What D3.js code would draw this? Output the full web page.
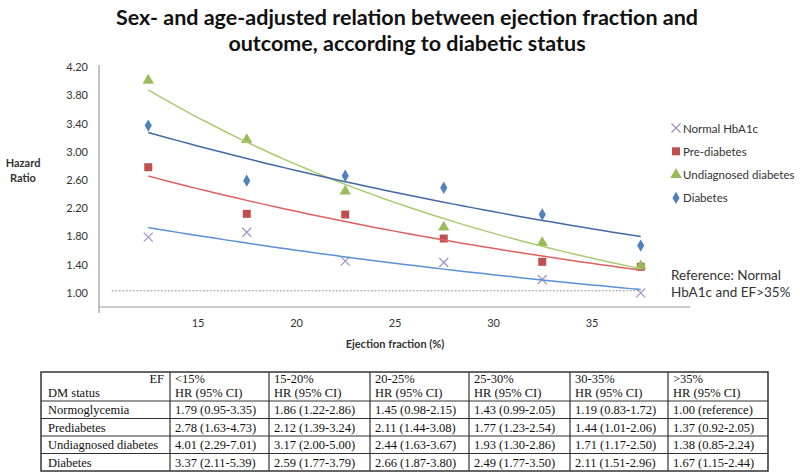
<!DOCTYPE html>
<html lang="en">
<head>
<meta charset="utf-8">
<title>Ejection fraction and outcome</title>
<script src="https://d3js.org/d3.v7.min.js"></script>
<style>
  body { margin: 0; background: #fff; }
  svg text { font-family: Lato, "Open Sans", sans-serif; }
  .tbl text { font-family: "Liberation Serif", "Times New Roman", serif; font-size: 12.5px; fill: #111; }
</style>
</head>
<body>
<div id="chart"></div>
<script>
// ---- data ----
const efMid = [12.5, 17.5, 22.5, 27.5, 32.5, 37.5];
const efBands = ["<15%", "15-20%", "20-25%", "25-30%", "30-35%", ">35%"];
const seriesNames = ["Normal HbA1c", "Pre-diabetes", "Undiagnosed diabetes", "Diabetes"];
const tableNames = ["Normoglycemia", "Prediabetes", "Undiagnosed diabetes", "Diabetes"];
const hrNormal = [1.79, 1.86, 1.45, 1.43, 1.19, 1.00];
const hrPre = [2.78, 2.12, 2.11, 1.77, 1.44, 1.37];
const hrUndiag = [4.01, 3.17, 2.44, 1.93, 1.71, 1.38];
const hrDiab = [3.37, 2.59, 2.66, 2.49, 2.11, 1.67];
const ciNormal = ["0.95-3.35", "1.22-2.86", "0.98-2.15", "0.99-2.05", "0.83-1.72", "reference"];
const ciPre = ["1.63-4.73", "1.39-3.24", "1.44-3.08", "1.23-2.54", "1.01-2.06", "0.92-2.05"];
const ciUndiag = ["2.29-7.01", "2.00-5.00", "1.63-3.67", "1.30-2.86", "1.17-2.50", "0.85-2.24"];
const ciDiab = ["2.11-5.39", "1.77-3.79", "1.87-3.80", "1.77-3.50", "1.51-2.96", "1.15-2.44"];
const yTicks = [1.0, 1.4, 1.8, 2.2, 2.6, 3.0, 3.4, 3.8, 4.2];
const xTicks = [15, 20, 25, 30, 35];
const refLine = { value: 1.03, from: 10.65, to: 37.5 };

const W = 800, H = 473;
const svg = d3.select("#chart").append("svg").attr("width", W).attr("height", H);

// title
svg.append("text").attr("x", 407).attr("y", 25).attr("text-anchor", "middle")
  .attr("font-size", 21.5).attr("font-weight", "bold").attr("fill", "#111")
  .text("Sex- and age-adjusted relation between ejection fraction and");
svg.append("text").attr("x", 407).attr("y", 51).attr("text-anchor", "middle")
  .attr("font-size", 21.5).attr("font-weight", "bold").attr("fill", "#111")
  .text("outcome, according to diabetic status");

// scales
const x = d3.scaleLinear().domain([10, 40]).range([99, 690]);
const y = d3.scaleLinear().domain([0.8, 4.2]).range([307, 67]);

// axes
const yAxis = svg.append("g").attr("transform", "translate(99,0)")
  .call(d3.axisLeft(y).tickValues(yTicks).tickSize(0).tickPadding(11).tickFormat(d3.format(".2f")));
yAxis.select(".domain").remove();
yAxis.selectAll("text").attr("font-size", 11).attr("fill", "#333").attr("font-family", "Lato, sans-serif");

const xAxis = svg.append("g").attr("transform", "translate(0,307)")
  .call(d3.axisBottom(x).tickValues(xTicks).tickSize(0).tickPadding(12).tickFormat(d3.format("d")));
xAxis.select(".domain").remove();
xAxis.selectAll("text").attr("font-size", 11).attr("fill", "#333").attr("font-family", "Lato, sans-serif");

svg.append("line").attr("x1", 99).attr("x2", 99).attr("y1", y(4.2) - 2).attr("y2", 313)
  .attr("stroke", "#999").attr("stroke-width", 1.2);
svg.append("line").attr("x1", 99).attr("x2", 690).attr("y1", 307).attr("y2", 307)
  .attr("stroke", "#999").attr("stroke-width", 1.2);

svg.append("text").attr("x", 395).attr("y", 348).attr("text-anchor", "middle")
  .attr("font-size", 11).attr("font-weight", "bold").attr("fill", "#333").text("Ejection fraction (%)");
svg.append("text").attr("x", 23).attr("y", 167).attr("text-anchor", "middle")
  .attr("font-size", 11).attr("font-weight", "bold").attr("fill", "#333").text("Hazard");
svg.append("text").attr("x", 23).attr("y", 182).attr("text-anchor", "middle")
  .attr("font-size", 11).attr("font-weight", "bold").attr("fill", "#333").text("Ratio");

// reference line
svg.append("line").attr("x1", x(refLine.from)).attr("x2", x(refLine.to))
  .attr("y1", y(refLine.value)).attr("y2", y(refLine.value))
  .attr("stroke", "#999").attr("stroke-width", 1).attr("stroke-dasharray", "2,1.5");

// series
const series = [
  { name: seriesNames[0], values: hrNormal, marker: "x", color: "#a394c9", trend: "#5b90d6" },
  { name: seriesNames[1], values: hrPre, marker: "square", color: "#c0504d", trend: "#e06060" },
  { name: seriesNames[2], values: hrUndiag, marker: "triangle", color: "#9bbb59", trend: "#a9cc70" },
  { name: seriesNames[3], values: hrDiab, marker: "diamond", color: "#4f81bd", trend: "#4169a6" }
];

// exponential least-squares trend (as in spreadsheet trendlines)
function expFit(xs, ys) {
  const ls = ys.map(Math.log);
  const mx = d3.mean(xs), ml = d3.mean(ls);
  const b = d3.sum(xs, (v, i) => (v - mx) * (ls[i] - ml)) / d3.sum(xs, v => (v - mx) ** 2);
  const a = ml - b * mx;
  return v => Math.exp(a + b * v);
}

const line = d3.line().x(d => x(d[0])).y(d => y(d[1]));
const symbolFor = {
  square: d3.symbol().type(d3.symbolSquare).size(64),
  triangle: d3.symbol().type(d3.symbolTriangle).size(56),
  diamond: d3.symbol().type(d3.symbolDiamond).size(44)
};

function drawMarker(g, m, color, cx, cy) {
  if (m === "x") {
    const r = 4.5;
    g.append("path").attr("d", `M${cx - r},${cy - r}L${cx + r},${cy + r}M${cx - r},${cy + r}L${cx + r},${cy - r}`)
      .attr("stroke", color).attr("stroke-width", 1.3).attr("fill", "none");
  } else {
    g.append("path").attr("d", symbolFor[m]())
      .attr("transform", `translate(${cx},${cy})`).attr("fill", color);
  }
}

// markers first, trendlines over them
const marks = svg.append("g");
series.forEach(s => {
  s.values.forEach((v, i) => drawMarker(marks, s.marker, s.color, x(efMid[i]), y(v)));
});
const trends = svg.append("g");
series.forEach(s => {
  const f = expFit(efMid, s.values);
  const pts = d3.range(efMid[0], efMid[efMid.length - 1] + 0.01, 0.5).map(t => [t, f(t)]);
  trends.append("path").attr("d", line(pts)).attr("fill", "none")
    .attr("stroke", s.trend).attr("stroke-width", 1.5);
});

// legend
const legend = svg.append("g");
series.forEach((s, i) => {
  const ly = 128 + i * 23.3;
  drawMarker(legend, s.marker, s.color, 676, ly);
  legend.append("text").attr("x", 683).attr("y", ly + 4.5).attr("font-size", 11.5)
    .attr("fill", "#333").text(s.name);
});

svg.append("text").attr("x", 671).attr("y", 280).attr("font-size", 13.5).attr("fill", "#333").text("Reference: Normal");
svg.append("text").attr("x", 671).attr("y", 297).attr("font-size", 13.5).attr("fill", "#333").text("HbA1c and EF>35%");

// ---- table ----
const colX = [41, 170, 269, 370, 469, 570, 668, 768];
const rowY = [372, 401, 418.5, 436, 453.5, 471];
const hrRows = [hrNormal, hrPre, hrUndiag, hrDiab];
const ciRows = [ciNormal, ciPre, ciUndiag, ciDiab];
const tbl = svg.append("g").attr("class", "tbl");

tbl.append("rect").attr("x", colX[0]).attr("y", rowY[0])
  .attr("width", colX[7] - colX[0]).attr("height", rowY[5] - rowY[0])
  .attr("fill", "none").attr("stroke", "#333").attr("stroke-width", 1.5);
colX.slice(1, -1).forEach(cx => tbl.append("line").attr("x1", cx).attr("x2", cx)
  .attr("y1", rowY[0]).attr("y2", rowY[5]).attr("stroke", "#333").attr("stroke-width", 1.2));
rowY.slice(1, -1).forEach(ry => tbl.append("line").attr("x1", colX[0]).attr("x2", colX[7])
  .attr("y1", ry).attr("y2", ry).attr("stroke", "#333").attr("stroke-width", 1.2));

tbl.append("text").attr("x", colX[1] - 6).attr("y", 383).attr("text-anchor", "end").text("EF");
tbl.append("text").attr("x", colX[0] + 7).attr("y", 397).text("DM status");
efBands.forEach((b, j) => {
  tbl.append("text").attr("x", colX[j + 1] + 5).attr("y", 383).text(b);
  tbl.append("text").attr("x", colX[j + 1] + 5).attr("y", 397).text("HR (95% CI)");
});
tableNames.forEach((n, i) => {
  const ty = rowY[i + 1] + 13;
  tbl.append("text").attr("x", colX[0] + 7).attr("y", ty).text(n);
  hrRows[i].forEach((v, j) => {
    tbl.append("text").attr("x", colX[j + 1] + 5).attr("y", ty)
      .text(`${v.toFixed(2)} (${ciRows[i][j]})`);
  });
});
</script>
</body>
</html>
